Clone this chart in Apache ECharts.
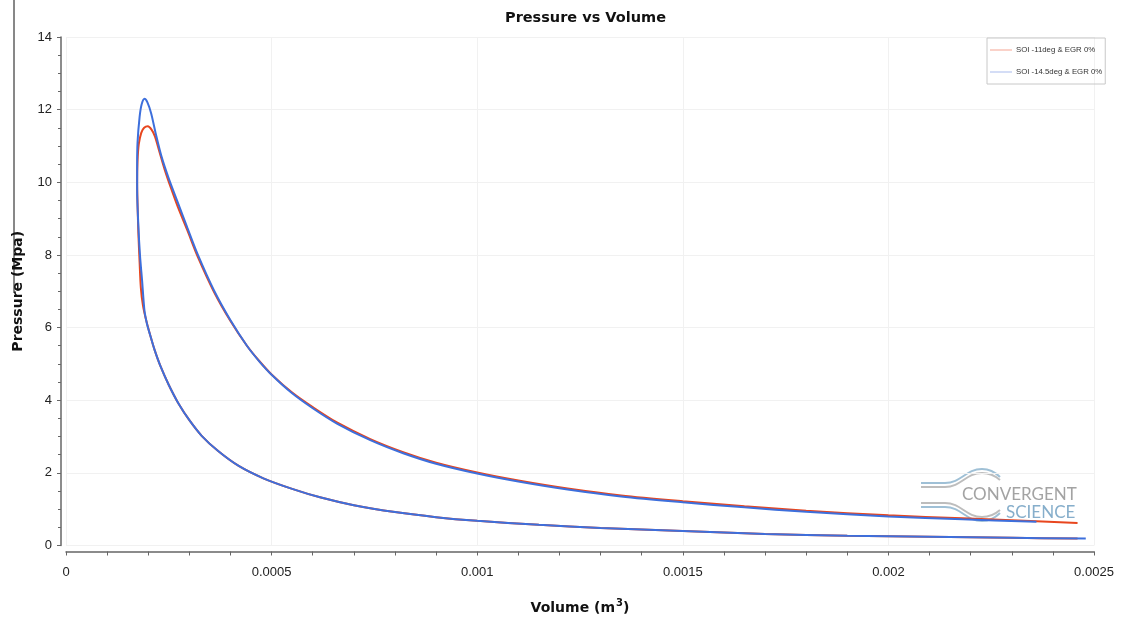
<!DOCTYPE html>
<html>
<head>
<meta charset="utf-8">
<script src="https://cdn.jsdelivr.net/npm/echarts@6/dist/echarts.min.js"></script>
<style>
  html, body { margin: 0; padding: 0; background: #ffffff; }
  #chart { width: 1123px; height: 620px; }
</style>
</head>
<body>
<div id="chart"></div>
<script>
// ---- Data ----
const seriesNames = ['SOI -11deg & EGR 0%', 'SOI -14.5deg & EGR 0%'];

// SOI -14.5deg (blue): compression -> combustion -> expansion
const blueVolume = [
  0.00248, 0.0023, 0.0021, 0.0019, 0.0017, 0.0015, 0.0013, 0.00115, 0.001, 0.0009,
  0.0008, 0.0007, 0.00062, 0.00055, 0.00048, 0.00042, 0.00037, 0.00033, 0.0003, 0.000275,
  0.00025, 0.00023, 0.000215, 0.000205, 0.000197, 0.000191, 0.000185, 0.00018, 0.000176, 0.000173,
  0.000173, 0.000174, 0.000179, 0.000184, 0.000191, 0.000198, 0.000207, 0.000218, 0.000232, 0.00025,
  0.000272, 0.000295, 0.00032, 0.00036, 0.0004, 0.00044, 0.00047, 0.0005, 0.00055, 0.0006, 0.00066,
  0.00074, 0.00082, 0.0009, 0.001, 0.0011, 0.00122, 0.00135, 0.0015, 0.00165, 0.0018,
  0.002, 0.00218, 0.00236
];
const bluePressure = [
  0.19, 0.21, 0.24, 0.27, 0.32, 0.40, 0.48, 0.57, 0.68, 0.78,
  0.92, 1.11, 1.32, 1.56, 1.85, 2.19, 2.60, 3.02, 3.45, 3.88,
  4.42, 4.93, 5.40, 5.78, 6.10, 6.45, 7.30, 7.98, 8.80, 9.80,
  10.50, 11.10, 11.80, 12.15, 12.30, 12.20, 11.90, 11.35, 10.72, 10.10,
  9.44, 8.75, 8.02, 7.02, 6.20, 5.50, 5.07, 4.70, 4.19, 3.78, 3.35,
  2.90, 2.54, 2.25, 1.98, 1.76, 1.54, 1.35, 1.19, 1.05, 0.93,
  0.80, 0.72, 0.655
];

// SOI -11deg (red): compression -> combustion -> expansion
const redVolume = [
  0.00246, 0.0023, 0.0021, 0.0019, 0.0017, 0.0015, 0.0013, 0.00115, 0.001, 0.0009,
  0.0008, 0.0007, 0.00062, 0.00055, 0.00048, 0.00042, 0.00037, 0.00033, 0.0003, 0.000275,
  0.00025, 0.00023, 0.000215, 0.000205, 0.000195, 0.000187, 0.000182, 0.000179, 0.000176, 0.000174,
  0.000173, 0.000174, 0.000177, 0.000183, 0.00019, 0.000199, 0.000208, 0.000216, 0.000227, 0.00024,
  0.000255, 0.000272, 0.000295, 0.00032, 0.00036, 0.0004, 0.00044, 0.00047, 0.0005, 0.00055, 0.0006,
  0.00066, 0.00074, 0.00082, 0.0009, 0.001, 0.0011, 0.00122, 0.00135, 0.0015, 0.00165,
  0.0018, 0.002, 0.00218, 0.00236, 0.00246
];
const redPressure = [
  0.19, 0.21, 0.24, 0.27, 0.32, 0.40, 0.48, 0.57, 0.68, 0.78,
  0.92, 1.11, 1.32, 1.56, 1.85, 2.19, 2.60, 3.02, 3.45, 3.88,
  4.42, 4.93, 5.40, 5.78, 6.20, 6.62, 7.10, 7.80, 8.60, 9.40,
  10.00, 10.60, 11.05, 11.36, 11.50, 11.54, 11.45, 11.27, 10.85, 10.35,
  9.85, 9.32, 8.68, 7.96, 6.98, 6.18, 5.50, 5.08, 4.71, 4.21, 3.81,
  3.38, 2.93, 2.57, 2.28, 2.01, 1.79, 1.57, 1.38, 1.22, 1.08,
  0.96, 0.83, 0.75, 0.67, 0.62
];

const pairs = (xs, ys) => xs.map((x, i) => [x, ys[i]]);

// Decorative watermark logo strokes (not data)
function logoStroke(y0, y1, y2, color) {
  return [
    { type: 'line', shape: { x1: 921, y1: y0, x2: 945, y2: y0 }, style: { stroke: color, lineWidth: 2 } },
    { type: 'bezierCurve', shape: { x1: 945, y1: y0, cpx1: 961, cpy1: y0, cpx2: 966, cpy2: y1, x2: 982, y2: y1 }, style: { stroke: color, lineWidth: 2, fill: null } },
    { type: 'bezierCurve', shape: { x1: 982, y1: y1, cpx1: 990, cpy1: y1, cpx2: 996, cpy2: (y1 + y2) / 2, x2: 1000, y2: y2 }, style: { stroke: color, lineWidth: 2, fill: null } }
  ];
}

const chart = echarts.init(document.getElementById('chart'), null, { renderer: 'canvas' });
const labelFont = 'Liberation Sans';

const option = {
  backgroundColor: '#ffffff',
  animation: false,
  title: {
    text: 'Pressure vs Volume',
    left: 505,
    top: 11,
    padding: 0,
    textStyle: { fontFamily: 'DejaVu Sans', fontWeight: 'bold', fontSize: 14.5, color: '#111' }
  },
  legend: {
    orient: 'vertical',
    left: 987,
    top: 38,
    padding: [8, 3, 8, 3],
    itemGap: 14,
    itemWidth: 22,
    itemHeight: 1,
    icon: 'rect',
    borderColor: '#c8c8c8',
    borderWidth: 1,
    textStyle: { fontSize: 7.8, fontFamily: 'Liberation Sans', color: '#333', padding: [2, 0, 0, -1] },
    data: [
      { name: seriesNames[0], itemStyle: { color: '#f4a592' } },
      { name: seriesNames[1], itemStyle: { color: '#a8bbec' } }
    ]
  },
  grid: { left: 66, right: 29, top: 37, bottom: 73, containLabel: false },
  xAxis: {
    type: 'value',
    min: 0,
    max: 0.0025,
    interval: 0.0005,
    offset: 6,
    name: 'Volume (m{sup|3})',
    nameLocation: 'middle',
    nameGap: 47,
    nameTextStyle: {
      fontFamily: 'DejaVu Sans', fontWeight: 'bold', fontSize: 14, color: '#111',
      rich: { sup: { fontFamily: 'DejaVu Sans', fontWeight: 'bold', fontSize: 10, color: '#111', padding: [0, 0, 9, 1] } }
    },
    axisLine: { show: true, onZero: false, lineStyle: { color: '#666', width: 1.5 } },
    axisTick: { show: true, length: 4, lineStyle: { color: '#666' } },
    minorTick: { show: true, splitNumber: 5, length: 4, lineStyle: { color: '#666' } },
    splitLine: { show: true, lineStyle: { color: '#f1f1f1' } },
    axisLabel: {
      fontFamily: labelFont, fontSize: 13, color: '#222', margin: 14,
      formatter: v => String(parseFloat(v.toFixed(4)))
    }
  },
  yAxis: {
    type: 'value',
    min: 0,
    max: 14,
    interval: 2,
    offset: 5,
    name: 'Pressure (Mpa)',
    nameLocation: 'middle',
    nameGap: 36,
    nameTextStyle: { fontFamily: 'DejaVu Sans', fontWeight: 'bold', fontSize: 14, color: '#111' },
    axisLine: { show: true, onZero: false, lineStyle: { color: '#666', width: 1.5 } },
    axisTick: { show: true, length: 4, lineStyle: { color: '#666' } },
    minorTick: { show: true, splitNumber: 4, length: 3, lineStyle: { color: '#666' } },
    splitLine: { show: true, lineStyle: { color: '#f1f1f1' } },
    axisLabel: { fontFamily: labelFont, fontSize: 13, color: '#222', margin: 9 }
  },
  graphic: [
    { type: 'line', shape: { x1: 14, y1: 0, x2: 14, y2: 293 }, style: { stroke: '#111', lineWidth: 1 } },
    ...logoStroke(483, 469, 477, '#9fc0d6'),
    ...logoStroke(487, 473, 480, '#bdbdbd'),
    ...logoStroke(503, 517, 510, '#bdbdbd'),
    ...logoStroke(507, 521, 513, '#9fc0d6'),
    { type: 'text', left: 962, top: 486, style: { text: 'CONVERGENT', font: '17px Lato', fill: '#a3a3a3' } },
    { type: 'text', left: 1006, top: 504, style: { text: 'SCIENCE', font: '17px Lato', fill: '#86aecb' } }
  ],
  series: [
    {
      name: seriesNames[0],
      type: 'line',
      data: pairs(redVolume, redPressure),
      showSymbol: false,
      smooth: 0.3,
      color: '#e8461e',
      lineStyle: { color: '#e8461e', width: 2 },
      z: 2
    },
    {
      name: seriesNames[1],
      type: 'line',
      data: pairs(blueVolume, bluePressure),
      showSymbol: false,
      smooth: 0.3,
      color: '#3d6fdc',
      lineStyle: { color: '#3d6fdc', width: 2 },
      z: 3
    }
  ]
};
chart.setOption(option);
</script>
</body>
</html>
